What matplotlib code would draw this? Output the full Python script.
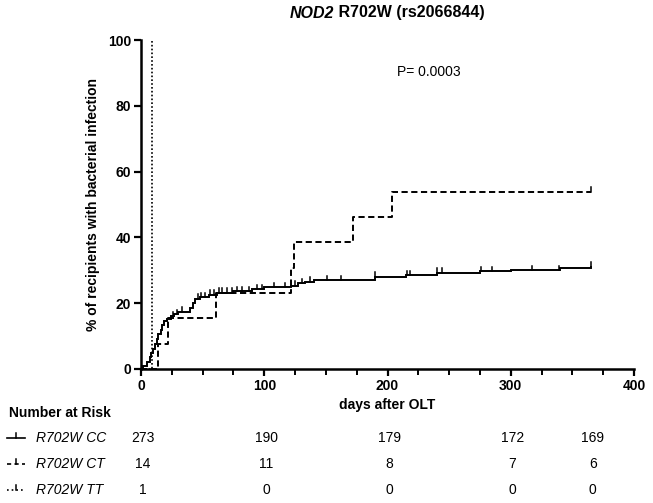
import matplotlib
matplotlib.use("Agg")
import matplotlib.pyplot as plt
from matplotlib.lines import Line2D
from matplotlib.transforms import blended_transform_factory

plt.rcParams['font.family'] = ['Liberation Sans', 'DejaVu Sans']

# ---- data ----
cc_days = [0, 2, 5, 7, 8, 10, 11, 13, 14, 16, 17, 19, 21, 24, 27, 30, 40, 42, 44, 48, 55, 62,
           75, 90, 100, 122, 127, 133, 140, 190, 215, 240, 275, 300, 340, 365]
cc_pct = [0, 1.0, 2.0, 3.5, 4.8, 6.2, 7.5, 9.0, 10.5, 12.0, 13.3, 14.5, 15.2, 16.0, 16.6, 17.3,
          18.5, 20.0, 21.3, 21.8, 22.5, 23.2, 23.6, 24.2, 24.8, 25.3, 26.0, 26.5, 27.0, 28.0,
          28.5, 29.3, 29.7, 30.0, 30.6, 31.0]
cc_censor = [26, 29, 33, 46, 49, 52, 56, 59, 63, 66, 70, 74, 78, 82, 88, 94, 98, 108, 117,
             125, 131, 137, 151, 162, 190, 216, 218, 240, 244, 276, 285, 317, 339, 365]

ct_days = [0, 14, 22, 61, 122, 124, 172, 204, 365]
ct_pct = [0, 7.7, 15.4, 23.1, 30.8, 38.5, 46.2, 53.8, 53.8]
ct_censor = [365]

tt_days = [0, 9, 9]
tt_pct = [0, 0, 100]

title_italic = "NOD2"
title_rest = " R702W (rs2066844)"
p_text = "P= 0.0003"

risk_groups = ["R702W CC", "R702W CT", "R702W TT"]
risk_days = [0, 100, 200, 300, 365]
risk_counts = [[273, 190, 179, 172, 169],
               [14, 11, 8, 7, 6],
               [1, 0, 0, 0, 0]]

# ---- layout ----
W, H = 653, 503
fig = plt.figure(figsize=(W / 100, H / 100), dpi=100)
ax = fig.add_axes([141 / W, 1 - 369 / H, (634 - 141) / W, (369 - 40) / H])


def step_curve(days, pct):
    xs, ys = [days[0]], [pct[0]]
    for d, p in zip(days[1:], pct[1:]):
        xs += [d, d]
        ys += [ys[-1], p]
    return xs, ys


def level_at(days, pct, t):
    v = pct[0]
    for d, p in zip(days, pct):
        if d <= t:
            v = p
    return v


lw = 1.4
x, y = step_curve(cc_days, cc_pct)
ax.plot(x, y, color='black', lw=lw, solid_joinstyle='miter', clip_on=False)
for c in cc_censor:
    v = level_at(cc_days, cc_pct, c)
    ax.plot([c, c], [v, v + 1.4], color='black', lw=1.1, clip_on=False)

x, y = step_curve(ct_days, ct_pct)
ax.plot(x, y, color='black', lw=lw, linestyle=(0, (3.2, 1.8)), clip_on=False)
for c in ct_censor:
    v = level_at(ct_days, ct_pct, c)
    ax.plot([c, c], [v, v + 1.4], color='black', lw=1.1, clip_on=False)

x, y = step_curve(tt_days, tt_pct)
ax.plot(x, y, color='black', lw=1.2, linestyle=(0, (1, 1.3)), clip_on=False)

ax.set_xlim(0, 400)
ax.set_ylim(0, 100)
ax.set_xticks([0, 100, 200, 300, 400])
ax.set_xticks(range(0, 401, 25), minor=True)
ax.set_yticks([0, 20, 40, 60, 80, 100])
for s in ['top', 'right']:
    ax.spines[s].set_visible(False)
for s in ['left', 'bottom']:
    ax.spines[s].set_linewidth(1.8)
ax.tick_params(which='major', direction='out', length=5, width=1.6, labelsize=10, pad=2)
ax.tick_params(which='minor', direction='out', length=4, width=1.4)
for lab in ax.get_xticklabels() + ax.get_yticklabels():
    lab.set_fontweight('bold')

ax.set_ylabel("% of recipients with bacterial infection", fontsize=10, fontweight='bold', labelpad=6)
ax.set_xlabel("days after OLT", fontsize=10, fontweight='bold', labelpad=4)

ax.text(208, 90.3, p_text, fontsize=10, va='center', ha='left')

# title with italic part, centred over the axes
r = fig.canvas.get_renderer()
t1 = fig.text(0.5, 1 - 13 / H, title_italic, fontsize=11.5, fontweight='bold', fontstyle='italic',
              ha='right', va='center')
t2 = fig.text(0.5, 1 - 13 / H, title_rest, fontsize=11.5, fontweight='bold', ha='left', va='center')
w1 = t1.get_window_extent(r).width
w2 = t2.get_window_extent(r).width
cx = (141 + 634) / 2
t1.set_x((cx - (w1 + w2) / 2 + w1) / W)
t2.set_x((cx - (w1 + w2) / 2 + w1) / W)

# Number at risk table
fig.text(9 / W, 1 - 413 / H, "Number at Risk", fontsize=10, fontweight='bold', va='center', ha='left')
row_y = [438, 464, 490]
styles = ['-', (0, (2.5, 2)), (0, (1, 1.8))]
trans = blended_transform_factory(ax.transData, fig.transFigure)
for name, counts, yy, st in zip(risk_groups, risk_counts, row_y, styles):
    yf = 1 - yy / H
    fig.add_artist(Line2D([7 / W, 25 / W], [yf, yf], color='black', lw=1.2, linestyle=st))
    fig.add_artist(Line2D([16 / W, 16 / W], [yf, yf + 5 / H], color='black', lw=1.1))
    fig.text(36 / W, yf, name, fontsize=10, fontstyle='italic', va='center', ha='left')
    for d, n in zip(risk_days, counts):
        fig.text(d + 1.5, yf, str(n), fontsize=10, va='center', ha='center', transform=trans)

fig.savefig("out.png", dpi=100)
